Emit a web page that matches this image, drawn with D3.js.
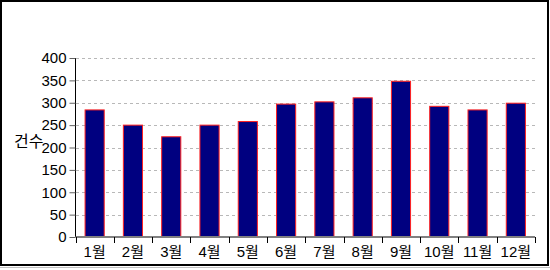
<!DOCTYPE html>
<html><head><meta charset="utf-8">
<script src="https://cdn.jsdelivr.net/npm/d3@7"></script>
<style>
body{margin:0;background:#fff;}
text{font-family:"Liberation Sans",Arial,"Noto Sans CJK KR",sans-serif;}
</style></head>
<body><svg id="c" width="550" height="270"></svg>
<script>
const months = ["1월","2월","3월","4월","5월","6월","7월","8월","9월","10월","11월","12월"];
const counts = [284, 250, 224, 250, 258, 297, 302, 311, 348, 292, 284, 299];
const yTicks = [0, 50, 100, 150, 200, 250, 300, 350, 400];
const yLabel = "건수";

const svg = d3.select("#c");
svg.append("rect").attr("x",1).attr("y",1).attr("width",547).attr("height",264)
  .attr("fill","#fff").attr("stroke","#000").attr("stroke-width",2);
svg.append("line").attr("x1",0).attr("x2",550).attr("y1",267.5).attr("y2",267.5).attr("stroke","#c0c0c0");

const x = d3.scaleBand().domain(months).range([75.5, 535]).paddingInner(0.5).paddingOuter(0.25);
const y = d3.scaleLinear().domain([0, 400]).range([237, 58]);

// gridlines
svg.append("g").selectAll("line").data(yTicks.filter(d=>d>0)).join("line")
  .attr("x1",76).attr("x2",535).attr("y1",d=>Math.round(y(d))+0.5).attr("y2",d=>Math.round(y(d))+0.5)
  .attr("stroke","#b8b8b8").attr("stroke-dasharray","3,3");

// bars
svg.append("g").selectAll("rect").data(counts).join("rect")
  .attr("x",(d,i)=>x(months[i])).attr("width",x.bandwidth())
  .attr("y",d=>y(d)).attr("height",d=>y(0)-y(d))
  .attr("fill","#000080").attr("stroke","#ff2020").attr("stroke-width",1);

// y axis
const ya = svg.append("g").attr("transform","translate(75.5,0)")
  .call(d3.axisLeft(y).tickValues(yTicks).tickSize(6).tickPadding(3));
ya.select(".domain").attr("stroke","#000").attr("d","M0,58V237");
ya.selectAll(".tick line").attr("stroke","#606060");
ya.selectAll("text").attr("font-size",15).attr("fill","#000");

// x axis
const xa = svg.append("g").attr("transform","translate(0,237)")
  .call(d3.axisBottom(x).tickSize(0).tickPadding(9));
xa.select(".domain").remove();
xa.selectAll("text").attr("font-size",15).attr("fill","#000");
svg.append("line").attr("x1",75.5).attr("x2",535).attr("y1",237).attr("y2",237)
  .attr("stroke","#808080").attr("stroke-width",2);
const bounds = d3.range(13).map(i=>75.5 + i*(535-75.5)/12);
svg.append("g").selectAll("line").data(bounds).join("line")
  .attr("x1",d=>Math.round(d)+0.5).attr("x2",d=>Math.round(d)+0.5).attr("y1",237).attr("y2",243)
  .attr("stroke","#000");

svg.append("text").attr("x",14).attr("y",147).attr("font-size",16).attr("fill","#000").text(yLabel);
</script></body></html>
